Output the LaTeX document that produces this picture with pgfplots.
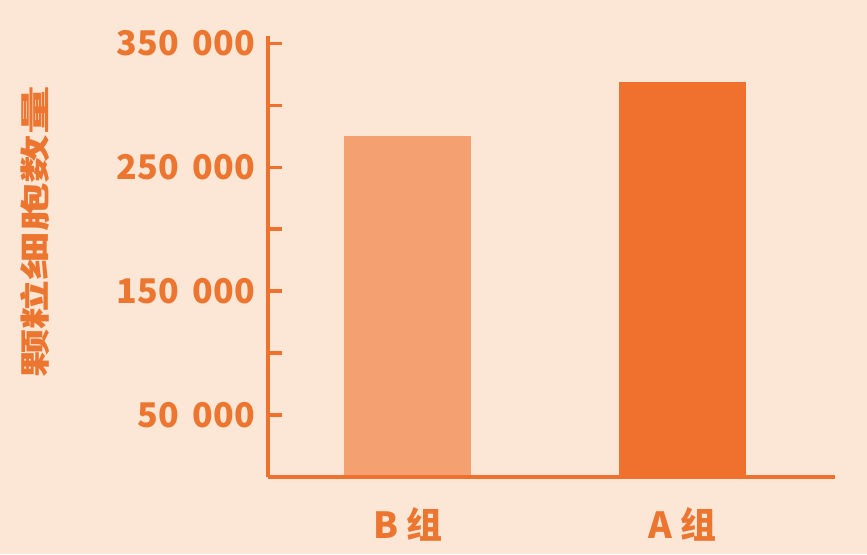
\documentclass[border=0pt]{standalone}
\usepackage{fontspec}
\setmainfont{Noto Sans CJK SC}
\usepackage{graphicx}
\usepackage{pgfplots}
\pgfplotsset{compat=1.18}
\definecolor{bg}{RGB}{252,230,214}
\definecolor{ora}{RGB}{240,112,46}
\definecolor{orl}{RGB}{245,160,112}
\definecolor{txt}{RGB}{236,118,48}
\begin{document}
\begin{tikzpicture}
\useasboundingbox[fill=bg] (0,0) rectangle (867pt,554pt);
\begin{axis}[
  at={(268pt,77pt)}, anchor=south west, scale only axis,
  width=567pt, height=441pt,
  xmin=-0.509, xmax=1.553, ymin=0, ymax=356000,
  clip=false, axis on top,
  axis x line*=bottom, axis y line*=left,
  axis line style={-, ora, line width=4pt},
  ytick={50000,100000,...,350000},
  yticklabels={50\hspace{0.4em}000,,150\hspace{0.4em}000,,250\hspace{0.4em}000,,350\hspace{0.4em}000},
  ytick style={ora, line width=3.5pt},
  major tick length=14pt, tick align=inside,
  xtick={0,1}, xticklabels={B 组, A 组}, xtick style={draw=none},
  tick label style={txt, font=\bfseries\fontsize{34}{34}\selectfont},
  xticklabel style={anchor=north, inner sep=0pt, yshift=-30pt, font=\bfseries\fontsize{36}{36}\selectfont},
  yticklabel style={anchor=east, inner sep=0pt, xshift=-13pt},
  scaled y ticks=false,
]
\addplot[ybar, bar width=127pt, bar shift=0pt, fill=orl, draw=none] coordinates {(0,275000)};
\addplot[ybar, bar width=127pt, bar shift=0pt, fill=ora, draw=none] coordinates {(1,318500)};
\end{axis}
\node[rotate=90, txt, font=\bfseries\fontsize{30}{30}\selectfont] at (35pt,322pt) {\scalebox{1.62}[1]{颗粒细胞数量}};
\end{tikzpicture}
\end{document}
